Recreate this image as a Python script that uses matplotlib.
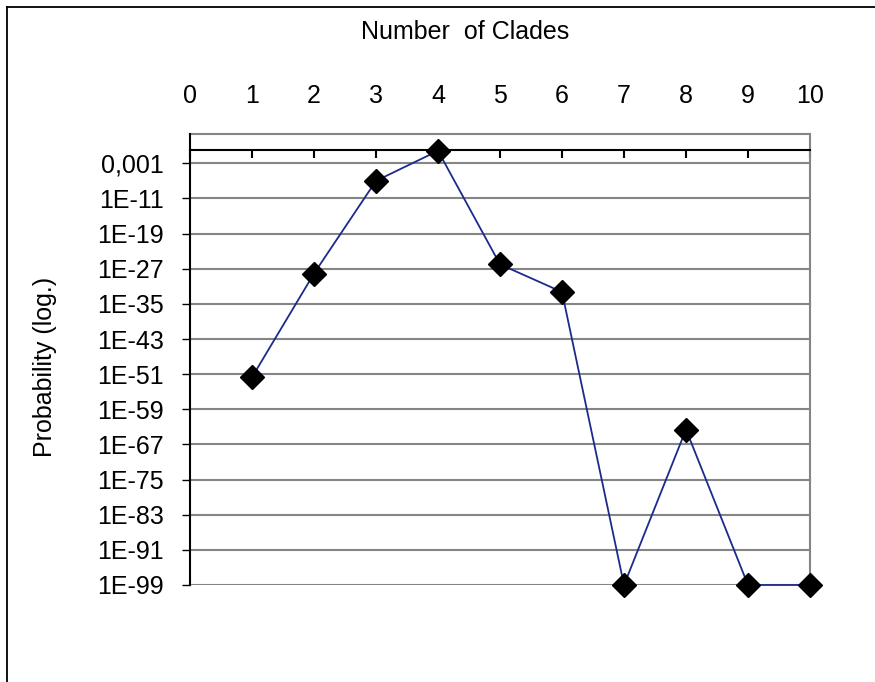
import matplotlib
matplotlib.use('Agg')
import matplotlib.pyplot as plt
from matplotlib.lines import Line2D
import numpy as np

plt.rcParams['font.family'] = ['Liberation Sans', 'DejaVu Sans']

clades = [1, 2, 3, 4, 5, 6, 7, 8, 9, 10]
probability = [2e-52, 8e-29, 1e-7, 0.7, 1e-26, 5e-33, 1e-99, 2.5e-64, 1e-99, 1e-99]
x_ticks = [0, 1, 2, 3, 4, 5, 6, 7, 8, 9, 10]
y_ticks = [1e-3, 1e-11, 1e-19, 1e-27, 1e-35, 1e-43, 1e-51, 1e-59, 1e-67, 1e-75, 1e-83, 1e-91, 1e-99]
y_labels = ['0,001', '1E-11', '1E-19', '1E-27', '1E-35', '1E-43', '1E-51',
            '1E-59', '1E-67', '1E-75', '1E-83', '1E-91', '1E-99']

grid_col = '#858585'
fs = 18

fig = plt.figure(figsize=(8.75, 6.82), dpi=100)
ax = fig.add_axes([190 / 875, 1 - 585 / 682, 620 / 875, 451 / 682])

ax.set_yscale('log')
ax.set_xlim(0, 10)
ax.set_ylim(1e-99, 10 ** 3.67)

ax.set_yticks(y_ticks)
ax.set_yticklabels(y_labels)
ax.yaxis.set_minor_locator(matplotlib.ticker.NullLocator())
ax.tick_params(axis='y', direction='out', length=6, width=1, pad=13,
               labelsize=fs, color='black')
for t in y_ticks:
    ax.axhline(t, color=grid_col, lw=1.5, zorder=1)

# category axis sits on the y = 1 line, labels above the plot
ax.spines['top'].set_position(('data', 1.0))
ax.spines['top'].set_color('black')
ax.spines['top'].set_linewidth(1.5)
ax.xaxis.tick_top()
ax.set_xticks(x_ticks)
ax.tick_params(axis='x', direction='in', length=6, width=1.5, pad=30,
               labelsize=fs, color='black')
ax.axhline(10 ** 3.67, color=grid_col, lw=1.5, clip_on=False, zorder=1)

ax.spines['left'].set_color('black')
ax.spines['left'].set_linewidth(1.5)
ax.spines['right'].set_color(grid_col)
ax.spines['right'].set_linewidth(1.5)
ax.spines['bottom'].set_visible(False)

ax.plot(clades, probability, color='#1c2a8c', lw=1.3, marker='D', ms=12,
        mfc='black', mec='black', clip_on=False, zorder=5)

fig.text(465 / 875, 1 - 32 / 682, 'Number  of Clades', ha='center', va='center', fontsize=fs)
fig.text(45 / 875, 1 - 367 / 682, 'Probability (log.)', ha='center', va='center',
         rotation=90, fontsize=fs)

# outer frame (top and left edges)
fig.add_artist(Line2D([7 / 875, 1.0], [1 - 7 / 682, 1 - 7 / 682], color='black', lw=1.3,
                      transform=fig.transFigure))
fig.add_artist(Line2D([7 / 875, 7 / 875], [0.0, 1 - 7 / 682], color='black', lw=1.3,
                      transform=fig.transFigure))

fig.savefig('out.png', dpi=100)
